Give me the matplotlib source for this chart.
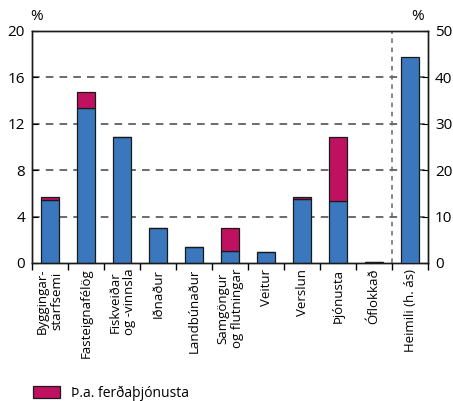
import numpy as np
import matplotlib.pyplot as plt
from matplotlib.patches import Patch

plt.rcParams['font.family'] = ['Open Sans', 'DejaVu Sans']

categories = ['Byggingar-\nstarfsemi', 'Fasteignafélög', 'Fiskveiðar\nog -vinnsla', 'Iðnaður',
              'Landbúnaður', 'Samgöngur\nog flutningar', 'Veitur', 'Verslun', 'Þjónusta',
              'Óflokkað', 'Heimili (h. ás)']
# left axis (%), first ten categories
base_left = [5.4, 13.4, 10.9, 3.05, 1.35, 1.05, 0.95, 5.55, 5.35, 0.05]
tourism_left = [0.25, 1.3, 0.0, 0.0, 0.0, 1.95, 0.0, 0.12, 5.55, 0.0]
# right axis (%), households
base_right = [44.3]

blue = '#3a77bd'
pink = '#bf1160'

fig = plt.figure(figsize=(4.53, 4.01), dpi=100)
ax = fig.add_axes([32 / 453, 1 - 263 / 401, 396 / 453, 232 / 401])
ax2 = ax.twinx()

x = np.arange(len(base_left))
w = 0.5
ax.bar(x, base_left, w, color=blue, edgecolor='#1a1a1a', linewidth=0.9, zorder=3)
ax.bar(x, tourism_left, w, bottom=base_left, color=pink, edgecolor='#1a1a1a', linewidth=0.9, zorder=3)
ax2.bar([len(base_left)], base_right, w, color=blue, edgecolor='#1a1a1a', linewidth=0.9, zorder=3)

ax.set_xlim(-0.5, 10.5)
ax.set_ylim(0, 20)
ax2.set_ylim(0, 50)
ax.set_yticks([0, 4, 8, 12, 16, 20])
ax2.set_yticks([0, 10, 20, 30, 40, 50])
for yv in [4, 8, 12, 16]:
    ax.axhline(yv, color='#444444', lw=1.1, ls=(0, (5, 4)), zorder=1)
ax.axvline(9.5, color='#666666', lw=1.1, ls=(0, (3, 3)), zorder=1)

ax.set_xticks(np.arange(11))
ax.set_xticklabels(categories, rotation=90, fontsize=9.5, linespacing=1.15)
ax.tick_params(axis='x', length=0, pad=4)
ax.set_xticks(np.arange(-0.5, 11, 1), minor=True)
ax.tick_params(axis='x', which='minor', length=5, direction='out', width=1)
ax.tick_params(axis='y', direction='in', length=4, labelsize=11, pad=5)
ax2.tick_params(axis='y', direction='in', length=4, labelsize=11, pad=5)

for a in (ax, ax2):
    for s in a.spines.values():
        s.set_linewidth(1.0)
        s.set_color('#1a1a1a')

fig.text(37 / 453, 1 - 16 / 401, '%', fontsize=11, ha='center', va='center')
fig.text(418 / 453, 1 - 16 / 401, '%', fontsize=11, ha='center', va='center')

fig.legend(handles=[Patch(facecolor=pink, edgecolor='#1a1a1a', linewidth=0.9)],
           labels=['Þ.a. ferðaþjónusta'], loc='lower left', bbox_to_anchor=(20 / 453, -0.03),
           frameon=False, fontsize=10, handlelength=2.0, handleheight=0.9)

fig.savefig('out.png', dpi=100)
